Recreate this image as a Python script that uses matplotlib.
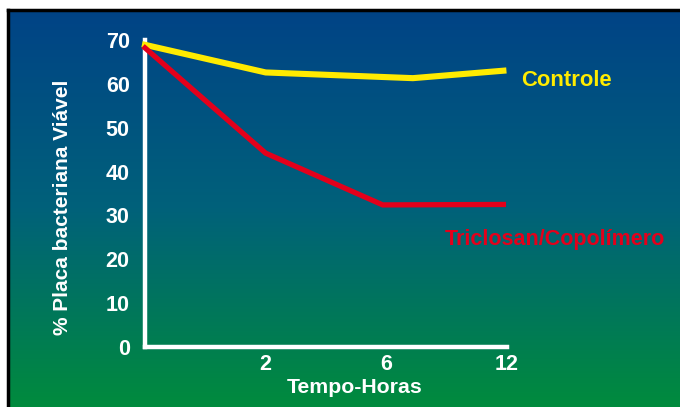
import matplotlib
matplotlib.use("Agg")
import matplotlib.pyplot as plt
import numpy as np
from matplotlib.colors import LinearSegmentedColormap

plt.rcParams['font.family'] = ['Liberation Sans', 'DejaVu Sans']

# Data (x in category-position units: 0 = start, 1 = 2h, 2 = 6h, 3 = 12h)
tick_pos = [1, 2, 3]
tick_labels = ["2", "6", "12"]
controle_x = [0, 1, 2.22, 2.97]
controle_y = [68.9, 62.6, 61.3, 63.0]
triclosan_x = [0, 1, 1.97, 2.97]
triclosan_y = [68.2, 44.2, 32.4, 32.5]
yticks = [0, 10, 20, 30, 40, 50, 60, 70]

W, H = 680, 407
fig = plt.figure(figsize=(W / 100, H / 100), dpi=100)
fig.patch.set_facecolor("white")

# Gradient background panel
bx0, by1 = 8, 10
bg = fig.add_axes([bx0 / W, 0, 1 - bx0 / W, 1 - by1 / H])
cmap = LinearSegmentedColormap.from_list(
    "bg", [(0.0, "#004386"), (0.5, "#00617A"), (1.0, "#008B3D")])
grad = np.linspace(0, 1, 256).reshape(-1, 1)
bg.imshow(grad, aspect="auto", cmap=cmap, extent=[0, 1, 0, 1], origin="upper")
bg.set_xlim(0, 1)
bg.set_ylim(0, 1)
bg.axis("off")
# black border top & left
fig.add_artist(plt.Line2D([bx0 / W, 1], [1 - by1 / H, 1 - by1 / H],
                          color="black", lw=2.5, transform=fig.transFigure))
fig.add_artist(plt.Line2D([bx0 / W, bx0 / W], [0, 1 - by1 / H],
                          color="black", lw=2.5, transform=fig.transFigure))

# Main axes
x0, x1 = 145, 507
y_top, y_bot = 40, 347
ax = fig.add_axes([x0 / W, (H - y_bot) / H, (x1 - x0) / W, (y_bot - y_top) / H])
ax.patch.set_alpha(0)
ax.set_xlim(0, 3)
ax.set_ylim(0, 70)

ax.plot(controle_x, controle_y, color="#FFEB00", lw=4.4, solid_joinstyle="miter",
        clip_on=False, zorder=3)
ax.plot(triclosan_x, triclosan_y, color="#E3001B", lw=3.8, solid_joinstyle="miter",
        clip_on=False, zorder=3)

for s in ["top", "right"]:
    ax.spines[s].set_visible(False)
for s in ["left", "bottom"]:
    ax.spines[s].set_color("white")
    ax.spines[s].set_linewidth(3.2)
    ax.spines[s].set_capstyle("projecting")

ax.set_yticks(yticks)
ax.set_yticklabels([str(v) for v in yticks])
ax.set_xticks(tick_pos)
ax.set_xticklabels(tick_labels)
ax.tick_params(axis="both", length=0, colors="white", labelsize=15.5)
ax.tick_params(axis="y", pad=11)
ax.tick_params(axis="x", pad=5)
for lab in ax.get_xticklabels() + ax.get_yticklabels():
    lab.set_fontweight("bold")

ax.set_xlabel("Tempo-Horas", color="white", fontsize=15.3, fontweight="bold")
ax.set_ylabel("% Placa bacteriana Viável", color="white", fontsize=15.0,
              fontweight="bold")
ax.xaxis.set_label_coords(0.58, -0.102)
ax.yaxis.set_label_coords(-0.202, 0.456)

ax.text(3.12, 60.7, "Controle", color="#FFEB00", fontsize=15.8, fontweight="bold",
        va="center", ha="left")
ax.text(2.48, 24.6, "Triclosan/Copolímero", color="#E3001B", fontsize=15.5,
        fontweight="bold", va="center", ha="left")

fig.savefig("out.png", dpi=100)
